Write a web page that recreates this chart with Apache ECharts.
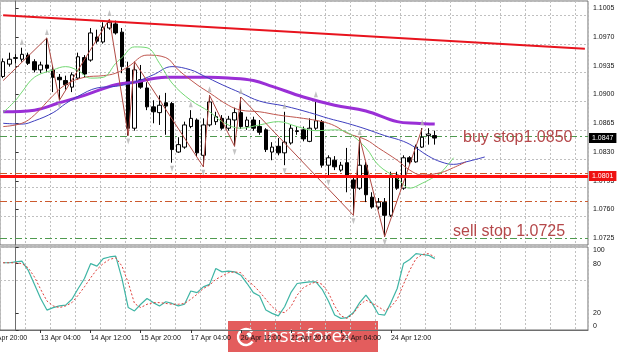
<!DOCTYPE html>
<html><head><meta charset="utf-8">
<script src="https://cdn.jsdelivr.net/npm/echarts@6/dist/echarts.min.js"></script>
<style>html,body{margin:0;padding:0;background:#fff}#c{width:620px;height:352px}</style>
</head><body><div id="c"></div>
<script>
// ---------------- DATA ----------------
const slotCount = 94;                       // visible bar slots (incl. empty future space)
const firstBarTime = Date.UTC(2020, 3, 10, 4); // first visible H4 bar
const timeTickLabels = ['13 Apr 04:00','14 Apr 12:00','15 Apr 20:00','17 Apr 04:00','20 Apr 12:00','21 Apr 20:00','23 Apr 04:00','24 Apr 12:00'];
const clippedTickLabel = '9 Apr 20:00';
const priceTicks = [1.0725,1.0760,1.0795,1.0830,1.0865,1.0900,1.0935,1.0970,1.1005];
const priceTickStep = 0.0035;
const stochTicks = [0,20,80,100];
const stochLevels = [20,80];
const priceMin = 1.07168, priceMax = 1.10139;

// [open, close, low, high]
const candles = [
[1.0922,1.0940,1.0920,1.0944],[1.0937,1.0943,1.0934,1.0951],[1.0944,1.0945,1.0938,1.0949],[1.0943,1.0949,1.0940,1.0957],
[1.0948,1.0938,1.0936,1.0951],[1.0940,1.0930,1.0927,1.0943],[1.0930,1.0936,1.0926,1.0940],[1.0936,1.0932,1.0927,1.0969],
[1.0930,1.0921,1.0903,1.0936],[1.0921,1.0918,1.0893,1.0925],[1.0917,1.0912,1.0906,1.0923],[1.0909,1.0924,1.0903,1.0927],
[1.0920,1.0946,1.0918,1.0951],[1.0945,1.0925,1.0921,1.0948],[1.0942,1.0975,1.0940,1.0981],[1.0970,1.0965,1.0962,1.0979],
[1.0964,1.0982,1.0962,1.0988],[1.0981,1.0988,1.0979,1.0992],[1.0986,1.0975,1.0973,1.0990],[1.0976,1.0934,1.0926,1.0981],
[1.0932,1.0859,1.0850,1.0940],[1.0859,1.0930,1.0856,1.0940],[1.0918,1.0909,1.0907,1.0936],[1.0908,1.0885,1.0881,1.0915],
[1.0885,1.0879,1.0865,1.0893],[1.0878,1.0887,1.0863,1.0899],[1.0890,1.0886,1.0851,1.0902],[1.0889,1.0833,1.0817,1.0891],
[1.0830,1.0839,1.0829,1.0848],[1.0836,1.0863,1.0834,1.0867],[1.0861,1.0871,1.0859,1.0881],[1.0869,1.0829,1.0824,1.0871],
[1.0826,1.0863,1.0812,1.0871],[1.0863,1.0891,1.0861,1.0899],[1.0867,1.0873,1.0863,1.0879],[1.0871,1.0859,1.0857,1.0875],
[1.0859,1.0870,1.0856,1.0874],[1.0869,1.0878,1.0837,1.0884],[1.0878,1.0861,1.0858,1.0897],[1.0861,1.0869,1.0857,1.0873],
[1.0869,1.0859,1.0856,1.0873],[1.0861,1.0854,1.0851,1.0869],[1.0857,1.0833,1.0830,1.0859],[1.0830,1.0836,1.0820,1.0842],
[1.0837,1.0829,1.0826,1.0847],[1.0829,1.0842,1.0814,1.0879],[1.0841,1.0859,1.0839,1.0863],[1.0855,1.0856,1.0851,1.0861],
[1.0857,1.0846,1.0843,1.0861],[1.0843,1.0859,1.0842,1.0871],[1.0859,1.0868,1.0857,1.0893],[1.0867,1.0814,1.0811,1.0869],
[1.0814,1.0823,1.0800,1.0826],[1.0820,1.0812,1.0808,1.0825],[1.0808,1.0814,1.0806,1.0818],[1.0817,1.0800,1.0781,1.0835],
[1.0796,1.0786,1.0753,1.0802],[1.0786,1.0814,1.0784,1.0847],[1.0814,1.0778,1.0769,1.0818],[1.0775,1.0763,1.0761,1.0781],
[1.0763,1.0769,1.0760,1.0774],[1.0769,1.0753,1.0727,1.0774],[1.0753,1.0802,1.0751,1.0806],[1.0802,1.0786,1.0784,1.0806],
[1.0786,1.0823,1.0784,1.0826],[1.0823,1.0818,1.0815,1.0825],[1.0818,1.0836,1.0817,1.0839],[1.0836,1.0848,1.0835,1.0859],
[1.0850,1.0852,1.0839,1.0859],[1.0850,1.0847,1.0839,1.0856]
];

// moving averages as [bar index, price]
const maSlow = [[0,1.0879],[5,1.0881],[9,1.0890],[13,1.0899],[18,1.0912],[21,1.0915],[26,1.0921],[33,1.0921],[36,1.0920],[40,1.0917],[43,1.0910],[48,1.0897],[53,1.0887],[58,1.0880],[63,1.0867],[66,1.0865],[69,1.0864]];
const jaw = [[0,1.0865],[3,1.0864],[5,1.0868],[8,1.0878],[10,1.0889],[12,1.0898],[15,1.0908],[18,1.0910],[21,1.0915],[24,1.0924],[27,1.0934],[30,1.0930],[32,1.0923],[35,1.0912],[38,1.0902],[41,1.0892],[45,1.0886],[49,1.0878],[52,1.0871],[55,1.0865],[58,1.0858],[61,1.0850],[64,1.0843],[66,1.0835],[68,1.0825],[70,1.0818],[72,1.0815],[74,1.0818],[77,1.0824]];
const teeth = [[0,1.0861],[3,1.0865],[5,1.0875],[8,1.0899],[10,1.0912],[13,1.0921],[16,1.0923],[18,1.0926],[20,1.0934],[23,1.0948],[26,1.0945],[28,1.0930],[31,1.0912],[33,1.0902],[36,1.0887],[38,1.0881],[41,1.0879],[44,1.0875],[48,1.0871],[51,1.0867],[53,1.0862],[55,1.0853],[58,1.0845],[60,1.0835],[63,1.0820],[65,1.0808],[67,1.0802],[70,1.0805],[72,1.0811],[74,1.0818]];
const lips = [[0,1.0878],[2,1.0893],[3,1.0903],[5,1.0921],[8,1.0930],[10,1.0934],[12,1.0929],[14,1.0920],[16,1.0921],[18,1.0938],[19,1.0945],[21,1.0958],[23,1.0957],[25,1.0938],[27,1.0914],[30,1.0893],[33,1.0879],[35,1.0867],[38,1.0859],[41,1.0863],[44,1.0867],[47,1.0861],[50,1.0856],[53,1.0857],[55,1.0854],[58,1.0835],[60,1.0814],[63,1.0798],[65,1.0786],[67,1.0792],[69,1.0800],[70,1.0805],[72,1.0823]];
const zigzag = [[0,1.0917],[7,1.0969],[9,1.0893],[17,1.0992],[20,1.0850],[21,1.0940],[32,1.0812],[33,1.0899],[37,1.0837],[38,1.0897],[56,1.0753],[57,1.0847],[61,1.0727],[67,1.0859]];
const fractalUp = [3,7,17,30,33,38,45,50,57,67];
const fractalDown = [9,20,27,32,37,45,52,56,61];

// trend line and horizontal levels
const trendLine = [[0,1.09966],[93,1.09557]];
const supportLevel = 1.0801;
const buyStop = 1.0850, sellStop = 1.0725;
const levelNear = 1.0805, levelLow = 1.0770;
const buyText = 'buy stop1.0850', sellText = 'sell stop 1.0725';

// stochastic
const stochK = [81,81,82,83,72,55,38,24,27,29,30,37,50,62,80,77,86,88,89,62,27,23,31,38,33,29,34,32,29,31,47,45,52,55,74,70,71,70,66,56,45,41,24,20,17,28,45,56,57,58,58,49,35,18,14,15,21,33,42,32,19,18,33,50,80,85,92,91,90,86];
const stochD = [81,81,81,80,75,64,49,35,29,27,29,33,42,52,63,73,80,85,87,77,57,32,27,31,33,33,32,31,31,32,37,43,50,54,61,65,69,70,69,60,54,46,37,28,22,21,28,42,51,55,58,55,45,29,17,14,20,30,36,32,28,23,28,37,55,72,86,91,92,88];

// ---------------- BUILD ----------------
const MON = ['Jan','Feb','Mar','Apr','May','Jun','Jul','Aug','Sep','Oct','Nov','Dec'];
function buildCategories(n){
  const out=[]; let t=firstBarTime;
  while(out.length<n){
    const d=new Date(t), wd=d.getUTCDay();
    if(wd!==0&&wd!==6){ out.push(d.getUTCDate()+' '+MON[d.getUTCMonth()]+' '+String(d.getUTCHours()).padStart(2,'0')+':00'); }
    t+=4*3600e3;
  }
  return out;
}
const categories = buildCategories(slotCount);
const gridFirstSlot = 2, gridSlotStep = 4;
const isTick = (i,v)=>timeTickLabels.includes(v);
const lastClose = candles[candles.length-1][1];
const FONT = 'Liberation Sans';
const axisText = {fontSize:7, color:'#111', fontFamily:FONT};
const crisp = v => Math.round(v) + 0.5;
const pip = 1e4;
const baseTick = priceTicks[0];

function hLines(gi, values, style, z){
  return {type:'custom', xAxisIndex:gi, yAxisIndex:gi, z:z, silent:true, clip:false,
    data: values.map(v=>[0, v]),
    renderItem:(params, api)=>{
      const cs = params.coordSys; const y = crisp(api.coord([0, api.value(1)])[1]);
      return {type:'line', shape:{x1:cs.x, y1:y, x2:cs.x+cs.width, y2:y}, style:Object.assign({fill:null}, style)};
    }};
}
function priceTag(value, bg, z){
  return {type:'custom', xAxisIndex:0, yAxisIndex:0, z:z, silent:true, clip:false,
    data:[[0, value]],
    renderItem:(params, api)=>{
      const cs = params.coordSys; const y = api.coord([0, api.value(1)])[1];
      return {type:'text', x:cs.x+cs.width+1, y:Math.round(y),
        style:{text:(+api.value(1)).toFixed(4), fill:'#fff', backgroundColor:bg, padding:[2,3,1,3],
          font:'7px "Liberation Sans"', verticalAlign:'middle'}};
    }};
}
const gridLine = {show:true, lineStyle:{color:'#c0c0c0', width:1, type:[2,2]}};
const hiddenAxis = {axisLine:{show:false}, axisTick:{show:false}, axisLabel:{show:false}};
const dashDot = [7,3,2,3];

const chart = echarts.init(document.getElementById('c'), null, {renderer:'canvas'});
const option = {
  animation:false,
  backgroundColor:'#fff',
  textStyle:{fontFamily:FONT},
  grid:[
    {left:0,right:32,top:1,bottom:107,show:true,z:0,backgroundColor:'transparent',borderColor:'#6e6e6e',borderWidth:1,outerBoundsMode:'none'},
    {left:0,right:32,top:247,bottom:22,show:true,z:0,backgroundColor:'transparent',borderColor:'#6e6e6e',borderWidth:1,outerBoundsMode:'none'}
  ],
  xAxis:[
    {type:'category',gridIndex:0,data:categories,boundaryGap:true,axisLine:{show:false},axisTick:{show:false},axisLabel:{show:false},splitLine:{show:false}},
    {type:'category',gridIndex:1,data:categories,boundaryGap:true,
      axisLine:{show:true,lineStyle:{color:'#6e6e6e'}},
      axisTick:{show:true,alignWithLabel:true,interval:isTick,length:3,lineStyle:{color:'#333'}},
      axisLabel:Object.assign({show:true,interval:isTick,align:'left',margin:5},axisText),
      splitLine:{show:false}},
    // grid helpers: bar index offset so that grid slots fall on multiples of the step
    Object.assign({type:'value',gridIndex:0,min:-0.5-gridFirstSlot,max:slotCount-0.5-gridFirstSlot,interval:gridSlotStep,splitLine:gridLine}, hiddenAxis),
    Object.assign({type:'value',gridIndex:1,min:-0.5-gridFirstSlot,max:slotCount-0.5-gridFirstSlot,interval:gridSlotStep,splitLine:gridLine}, hiddenAxis)
  ],
  yAxis:[
    {type:'value',gridIndex:0,position:'right',min:priceMin,max:priceMax,
      axisLine:{show:true,lineStyle:{color:'#6e6e6e'}},
      axisTick:{show:true,customValues:priceTicks,length:3,lineStyle:{color:'#333'}},
      axisLabel:Object.assign({customValues:priceTicks,formatter:v=>(+v).toFixed(4),margin:5},axisText),
      splitLine:{show:false}},
    {type:'value',gridIndex:1,position:'right',min:0,max:100,
      axisLine:{show:true,lineStyle:{color:'#6e6e6e'}},
      axisTick:{show:true,customValues:stochTicks,length:3,lineStyle:{color:'#333'}},
      axisLabel:Object.assign({customValues:stochTicks,margin:5,verticalAlignMinLabel:'bottom',verticalAlignMaxLabel:'top'},axisText),
      splitLine:{show:false}},
    // grid helpers: price in pips above the lowest tick, stochastic shifted by the lower level
    Object.assign({type:'value',gridIndex:0,position:'left',min:Math.round((priceMin-baseTick)*pip*10)/10,max:Math.round((priceMax-baseTick)*pip*10)/10,interval:priceTickStep*pip,splitLine:gridLine}, hiddenAxis),
    Object.assign({type:'value',gridIndex:1,position:'left',min:-stochLevels[0],max:100-stochLevels[0],interval:stochLevels[1]-stochLevels[0],splitLine:gridLine}, hiddenAxis)
  ],
  series:[
    hLines(0, [buyStop, sellStop], {stroke:'#4f9a4f', lineWidth:1, lineDash:dashDot}, 2),
    hLines(0, [levelNear, levelLow], {stroke:'#cc5a2e', lineWidth:1, lineDash:dashDot}, 2),
    {type:'candlestick',xAxisIndex:0,yAxisIndex:0,data:candles,barWidth:4,z:3,
      itemStyle:{color:'#fff',color0:'#000',borderColor:'#000',borderColor0:'#000',borderWidth:1}},
    {type:'line',data:maSlow,smooth:0.4,showSymbol:false,z:4,lineStyle:{color:'#9a2fd6',width:3}},
    {type:'line',data:jaw,smooth:0.4,showSymbol:false,z:4,lineStyle:{color:'#3f3fbf',width:1}},
    {type:'line',data:teeth,smooth:0.4,showSymbol:false,z:4,lineStyle:{color:'#c0574f',width:1}},
    {type:'line',data:lips,smooth:0.4,showSymbol:false,z:4,lineStyle:{color:'#73d873',width:1}},
    {type:'line',data:zigzag,showSymbol:false,z:4,lineStyle:{color:'#b04a44',width:1}},
    {type:'scatter',data:fractalUp.map(i=>[i,candles[i][3]]),symbol:'triangle',symbolSize:[4,6],symbolOffset:[0,-6],z:4,
      itemStyle:{color:'#b4b4b4'}},
    {type:'scatter',data:fractalDown.map(i=>[i,candles[i][2]]),symbol:'triangle',symbolSize:[4,6],symbolRotate:180,symbolOffset:[0,6],z:4,
      itemStyle:{color:'#b4b4b4'}},
    hLines(0, [supportLevel], {stroke:'#ff1010', lineWidth:3}, 5),
    {type:'line',xAxisIndex:0,yAxisIndex:0,data:[],z:5,silent:true,
      markLine:{silent:true,symbol:['none','none'],animation:false,label:{show:false},
        data:[
          [{coord:trendLine[0]},{coord:trendLine[1],lineStyle:{color:'#e8141e',width:2,type:'solid'}}]
        ]}},
    priceTag(lastClose, '#000', 6),
    priceTag(supportLevel, '#ee1111', 6),
    {type:'line',xAxisIndex:1,yAxisIndex:1,data:stochK,showSymbol:false,z:4,lineStyle:{color:'#3fb5a5',width:1.2}},
    {type:'line',xAxisIndex:1,yAxisIndex:1,data:stochD,showSymbol:false,z:4,lineStyle:{color:'#e0403c',width:1,type:[2,2]}}
  ],
  graphic:[
    {type:'text',x:463,y:138,z:20,style:{text:buyText,font:'16px "Liberation Sans"',fill:'#b5484a',verticalAlign:'middle'}},
    {type:'text',x:453,y:232,z:20,style:{text:sellText,font:'16px "Liberation Sans"',fill:'#b5484a',verticalAlign:'middle'}},
    {type:'text',x:-9,y:335,z:20,style:{text:clippedTickLabel,font:'7px "Liberation Sans"',fill:'#111'}},
    {type:'group',z:30,children:[
      {type:'rect',shape:{x:228,y:321,width:150,height:31},style:{fill:'#e35d5d'}},
      {type:'arc',shape:{cx:246,cy:337,r:8,startAngle:0.6,endAngle:5.6},style:{stroke:'#fff',lineWidth:2.5,fill:null}},
      {type:'circle',shape:{cx:249,cy:335,r:2.5},style:{fill:'#fff'}},
      {type:'text',x:263,y:337,style:{text:'instaforex',font:'19px "Open Sans"',fill:'#fff',verticalAlign:'middle'}}
    ]}
  ]
};
chart.setOption(option);
</script>
</body></html>
